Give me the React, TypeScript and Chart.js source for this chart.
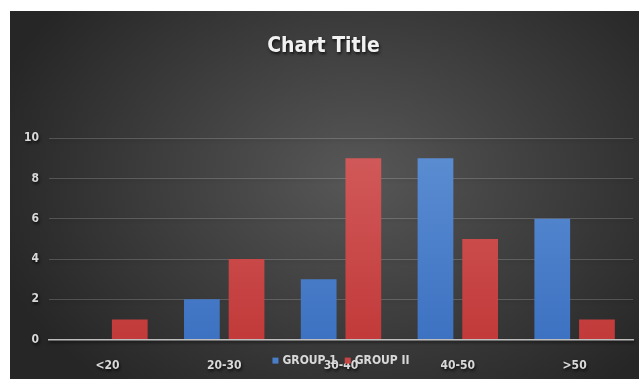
import React, { useEffect, useRef } from "react";
import { Chart, registerables } from "chart.js";

Chart.register(...registerables);

const categories = ["<20", "20-30", "30-40", "40-50", ">50"];
const group1 = [0, 2, 3, 9, 6];
const group2 = [1, 4, 9, 5, 1];
const seriesNames = ["GROUP 1", "GROUP II"];
const titleText = "Chart Title";

const FONT = "'Liberation Sans Narrow', 'DejaVu Sans Condensed', 'Open Sans', sans-serif";
const BOLD = "bold";

function grad(chart: any, top: string, bottom: string) {
  const area = chart.chartArea;
  if (!area) return bottom;
  const g = chart.ctx.createLinearGradient(0, area.top, 0, area.bottom);
  g.addColorStop(0, top);
  g.addColorStop(1, bottom);
  return g;
}

const titleShadow = {
  id: "titleShadow",
  beforeDraw(chart: any) {
    const ctx = chart.ctx;
    ctx.shadowColor = "rgba(0,0,0,0.7)";
    ctx.shadowBlur = 3;
    ctx.shadowOffsetX = 1;
    ctx.shadowOffsetY = 2;
  },
  beforeDatasetsDraw(chart: any) {
    const ctx = chart.ctx;
    ctx.shadowColor = "transparent";
    ctx.shadowBlur = 0;
    ctx.shadowOffsetX = 0;
    ctx.shadowOffsetY = 0;
  },
};

const overlayLegend = {
  id: "overlayLegend",
  afterDraw(chart: any) {
    const ctx = chart.ctx;
    const area = chart.chartArea;
    ctx.save();
    ctx.shadowColor = "transparent";
    ctx.font = `${BOLD} 12px ${FONT}`;
    ctx.textBaseline = "middle";
    const colors = ["#4a7ec9", "#c94545"];
    const box = 6;
    const gap = 4;
    const between = 8;
    const widths = seriesNames.map((n) => box + gap + ctx.measureText(n).width);
    const total = widths.reduce((a, b) => a + b, 0) + between;
    let x = (area.left + area.right) / 2 - total / 2;
    const y = area.bottom + 21;
    seriesNames.forEach((n, i) => {
      ctx.fillStyle = colors[i];
      ctx.fillRect(x, y - box / 2, box, box);
      ctx.fillStyle = "#d9d9d9";
      ctx.fillText(n, x + box + gap, y);
      x += widths[i] + between;
    });
    ctx.restore();
  },
};

export default function App() {
  const ref = useRef<HTMLCanvasElement>(null);
  useEffect(() => {
    if (!ref.current) return;
    const chart = new Chart(ref.current, {
      type: "bar",
      data: {
        labels: categories,
        datasets: [
          {
            label: seriesNames[0],
            data: group1,
            backgroundColor: (c: any) => grad(c.chart, "#5d8fd3", "#3d72c2"),
            categoryPercentage: 0.765,
            barPercentage: 0.8,
          },
          {
            label: seriesNames[1],
            data: group2,
            backgroundColor: (c: any) => grad(c.chart, "#d35c5c", "#c23a3a"),
            categoryPercentage: 0.765,
            barPercentage: 0.8,
          },
        ],
      },
      options: {
        animation: false,
        responsive: false,
        maintainAspectRatio: false,
        layout: { padding: { left: 4, right: 6, top: 0, bottom: -13 } },
        plugins: {
          legend: { display: false },
          tooltip: { enabled: false },
          title: {
            display: true,
            text: titleText,
            color: "#f2f2f2",
            font: { family: FONT, size: 21, weight: BOLD },
            padding: { top: 23, bottom: 79 },
          },
        },
        scales: {
          x: {
            grid: { display: false, drawTicks: false },
            border: { display: true, color: "rgba(210,210,210,0.85)", width: 1.5 },
            ticks: {
              color: "#d9d9d9",
              font: { family: FONT, size: 12, weight: BOLD },
              padding: 19,
              maxRotation: 0,
            },
          },
          y: {
            min: 0,
            max: 10,
            ticks: {
              stepSize: 2,
              color: "#d9d9d9",
              font: { family: FONT, size: 12, weight: BOLD },
              padding: 10,
            },
            grid: { color: "rgba(255,255,255,0.18)", drawTicks: false },
            border: { display: false },
          },
        },
      },
      plugins: [titleShadow, overlayLegend],
    });
    return () => chart.destroy();
  }, []);

  return (
    <div
      style={{
        position: "fixed",
        left: 10,
        top: 11,
        width: 629,
        height: 368,
        background:
          "radial-gradient(ellipse 60% 75% at 55% 45%, #575757 0%, #3c3c3c 55%, #262626 100%)",
      }}
    >
      <canvas ref={ref} width={629} height={368} style={{ display: "block" }} />
    </div>
  );
}
